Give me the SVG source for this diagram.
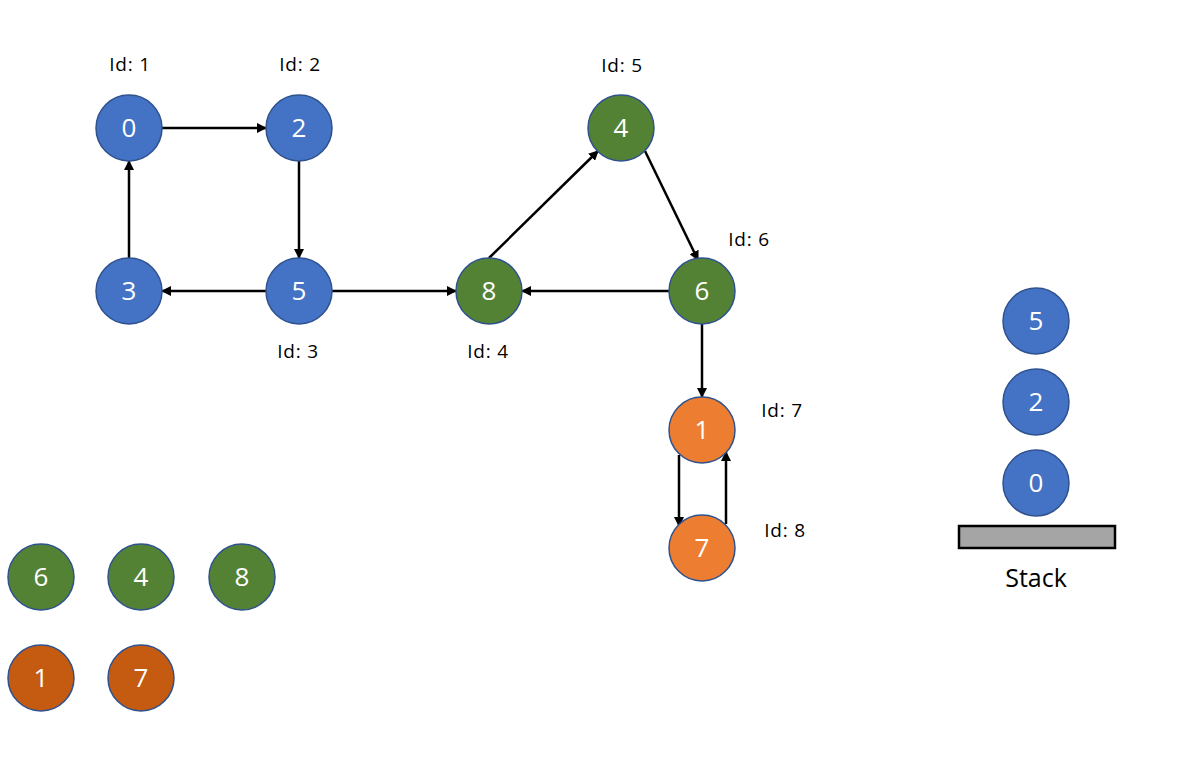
<svg xmlns="http://www.w3.org/2000/svg" width="1186" height="761" viewBox="0 0 1186 761">
<style>
.n{stroke:#2F528F;stroke-width:1.5}
.b{fill:#4472C4}.g{fill:#548235}.o{fill:#ED7D31}.d{fill:#C55A11}
.t{fill:#fff;font-family:"Open Sans","Noto Sans CJK KR",sans-serif;font-size:26px;text-anchor:middle;dominant-baseline:central}
.l{fill:#000;font-family:"Open Sans","Noto Sans CJK KR",sans-serif;font-size:19px;letter-spacing:0.8px;text-anchor:middle;dominant-baseline:central}
.e{stroke:#000;stroke-width:2.5;fill:none;marker-end:url(#a)}
</style>
<defs>
<marker id="a" viewBox="0 0 10 10" refX="9" refY="5" markerWidth="4" markerHeight="4" orient="auto" markerUnits="strokeWidth">
<path d="M0,0 L10,5 L0,10 Z" fill="#000"/>
</marker>
</defs>
<rect width="1186" height="761" fill="#fff"/>
<g id="connectors">
<line class="e" x1="162" y1="128" x2="266" y2="128"/>
<line class="e" x1="299" y1="161" x2="299" y2="258"/>
<line class="e" x1="266" y1="291" x2="162" y2="291"/>
<line class="e" x1="129" y1="258" x2="129" y2="161"/>
<line class="e" x1="332" y1="291" x2="456" y2="291"/>
<line class="e" x1="489" y1="258" x2="598" y2="151"/>
<line class="e" x1="645" y1="151" x2="698" y2="260"/>
<line class="e" x1="669" y1="291" x2="522" y2="291"/>
<line class="e" x1="702" y1="324" x2="702" y2="397"/>
<line class="e" x1="679" y1="455" x2="679" y2="526"/>
<line class="e" x1="726" y1="524" x2="726" y2="452"/>
</g>
<g id="n0"><circle class="n b" cx="129" cy="128" r="33"/><text class="t" x="129" y="127">0</text><text class="l" x="130" y="64">Id: 1</text></g>
<g id="n2"><circle class="n b" cx="299" cy="128" r="33"/><text class="t" x="299" y="127">2</text><text class="l" x="300" y="64">Id: 2</text></g>
<g id="n3"><circle class="n b" cx="129" cy="291" r="33"/><text class="t" x="129" y="290">3</text></g>
<g id="n5"><circle class="n b" cx="299" cy="291" r="33"/><text class="t" x="299" y="290">5</text><text class="l" x="298" y="351">Id: 3</text></g>
<g id="n8"><circle class="n g" cx="489" cy="291" r="33"/><text class="t" x="489" y="290">8</text><text class="l" x="488" y="351">Id: 4</text></g>
<g id="n4"><circle class="n g" cx="621" cy="128" r="33"/><text class="t" x="621" y="127">4</text><text class="l" x="622" y="65">Id: 5</text></g>
<g id="n6"><circle class="n g" cx="702" cy="291" r="33"/><text class="t" x="702" y="290">6</text><text class="l" x="749" y="239">Id: 6</text></g>
<g id="n1"><circle class="n o" cx="702" cy="430" r="33"/><text class="t" x="702" y="429">1</text><text class="l" x="782" y="410">Id: 7</text></g>
<g id="n7"><circle class="n o" cx="702" cy="548" r="33"/><text class="t" x="702" y="547">7</text><text class="l" x="785" y="530">Id: 8</text></g>
<g id="stack">
<circle class="n b" cx="1036" cy="321" r="33"/><text class="t" x="1036" y="320">5</text>
<circle class="n b" cx="1036" cy="402" r="33"/><text class="t" x="1036" y="401">2</text>
<circle class="n b" cx="1036" cy="483" r="33"/><text class="t" x="1036" y="482">0</text>
<rect x="959" y="526" width="156" height="22" fill="#A5A5A5" stroke="#000" stroke-width="2.5"/>
<text class="l" x="1036" y="577" style="font-size:25px;letter-spacing:0">Stack</text>
</g>
<g id="legend">
<circle class="n g" cx="41" cy="577" r="33"/><text class="t" x="41" y="576">6</text>
<circle class="n g" cx="141" cy="577" r="33"/><text class="t" x="141" y="576">4</text>
<circle class="n g" cx="242" cy="577" r="33"/><text class="t" x="242" y="576">8</text>
<circle class="n d" cx="41" cy="678" r="33"/><text class="t" x="41" y="677">1</text>
<circle class="n d" cx="141" cy="678" r="33"/><text class="t" x="141" y="677">7</text>
</g>
</svg>
